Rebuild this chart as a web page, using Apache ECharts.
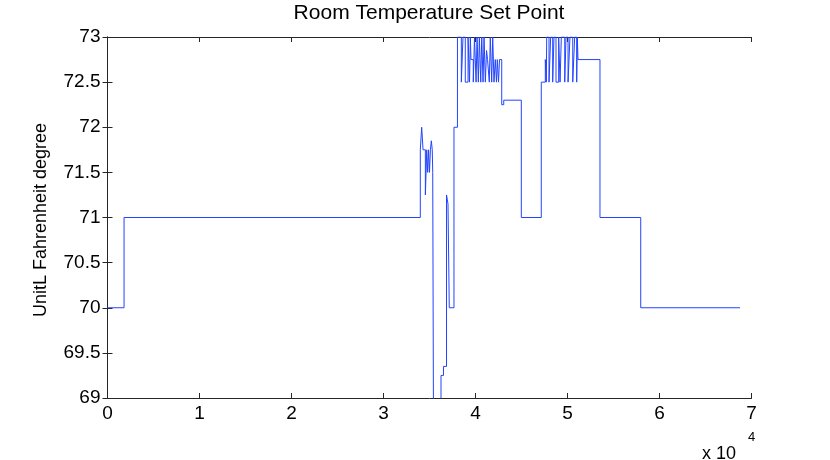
<!DOCTYPE html>
<html>
<head>
<meta charset="utf-8">
<script src="https://cdn.jsdelivr.net/npm/echarts@6/dist/echarts.min.js"></script>
<style>html,body{margin:0;padding:0;background:#fff;}#c{width:830px;height:460px;}</style>
</head>
<body>
<div id="c"></div>
<script>
// change points (x) and the set-point value that starts there
var changeX = [0,1800,34000,34150,34300,34550,34700,34800,34900,35000,35100,35200,35300,35350,35440,36250,36520,36850,37010,37150,37660,
  38040,38460,38640,38890,39190,39350,39440,39510,39760,39890,40060,40170,40310,40420,40570,40680,40820,40930,41070,41200,41310,41500,41610,41760,41870,42010,42150,42280,42370,42500,42610,42850,43070,44980,
  47150,47590,47700,47740,47990,48170,48390,48530,48750,49040,49190,49330,49700,49840,50060,50270,50570,50780,51000,51070,51140,53530,57960,68750];
var setPoint = [70,71,71.75,72,71.75,71.25,71.75,71.5,71.75,71.5,71.75,71.85,71.75,71.5,68.5,69.25,69.35,71.25,71.15,70,72,
  73,72.5,73,72.5,73,72.5,73,72.75,72.5,73,72.5,73,72.5,73,72.5,73,72.5,73,72.5,72.85,72.75,72.5,73,72.5,73,72.5,72.75,72.5,72.75,72.5,72.75,72.25,72.3,71,
  72.5,72.75,72.5,73,72.5,73,72.5,73,72.5,73,72.5,73,72.5,73,72.5,73,72.5,73,72.5,73,72.75,71,70,70];
var xTicks = [0,1,2,3,4,5,6,7];
var yTicks = ['69','69.5','70','70.5','71','71.5','72','72.5','73'];
var titleText = 'Room Temperature Set Point';
var yName = 'UnitL Fahrenheit degree';

// stairs: hold each value until the next change point
var pts = [];
changeX.forEach(function(x,i){
  if(i>0){ pts.push([x, setPoint[i-1]]); }
  pts.push([x, setPoint[i]]);
});
var font = '"Liberation Sans", Arial, Helvetica, sans-serif';
var axisCol = '#262626';
var chart = echarts.init(document.getElementById('c'));
var commonLine = {show:true, lineStyle:{color:axisCol, width:1}};
chart.setOption({
  animation:false,
  backgroundColor:'#fff',
  grid:{left:107.5, right:78.5, top:37, bottom:62, containLabel:false},
  xAxis:[{type:'value', min:0, max:70000, interval:10000, position:'bottom',
    axisLine:commonLine, axisTick:{show:true, inside:true, length:5, lineStyle:{color:axisCol}},
    axisLabel:{color:'#000', fontSize:19, fontFamily:font, margin:6, formatter:function(v){return String(xTicks[Math.round(v/10000)]);}},
    splitLine:{show:false}},
    {type:'value', min:0, max:70000, interval:10000, position:'top',
    axisLine:commonLine, axisTick:{show:true, inside:true, length:5, lineStyle:{color:axisCol}},
    axisLabel:{show:false}, splitLine:{show:false}}],
  yAxis:[{type:'value', min:69, max:73, interval:0.5, position:'left',
    axisLine:commonLine, axisTick:{show:true, inside:true, length:5, lineStyle:{color:axisCol}},
    axisLabel:{color:'#000', fontSize:19, fontFamily:font, margin:7, formatter:function(v){return yTicks[Math.round((v-69)*2)];}},
    splitLine:{show:false}},
    {type:'value', min:69, max:73, interval:0.5, position:'right',
    axisLine:commonLine, axisTick:{show:true, inside:true, length:5, lineStyle:{color:axisCol}},
    axisLabel:{show:false}, splitLine:{show:false}}],
  series:[{type:'line', data:pts, showSymbol:false, symbol:'none', clip:true,
    lineStyle:{color:'#2244ff', width:1}, z:1}],
  graphic:[
    {type:'text', x:429, y:13, style:{text:titleText, fill:'#000', font:'21px '+font, align:'center', verticalAlign:'middle'}},
    {type:'text', x:41, y:220, rotation:Math.PI/2, style:{text:yName, fill:'#000', font:'18px '+font, align:'center', verticalAlign:'middle'}},
    {type:'text', x:702, y:454, style:{text:'x 10', fill:'#000', font:'18px '+font, align:'left', verticalAlign:'middle'}},
    {type:'text', x:748, y:437, style:{text:'4', fill:'#000', font:'13px '+font, align:'left', verticalAlign:'middle'}}
  ]
});
</script>
</body>
</html>
